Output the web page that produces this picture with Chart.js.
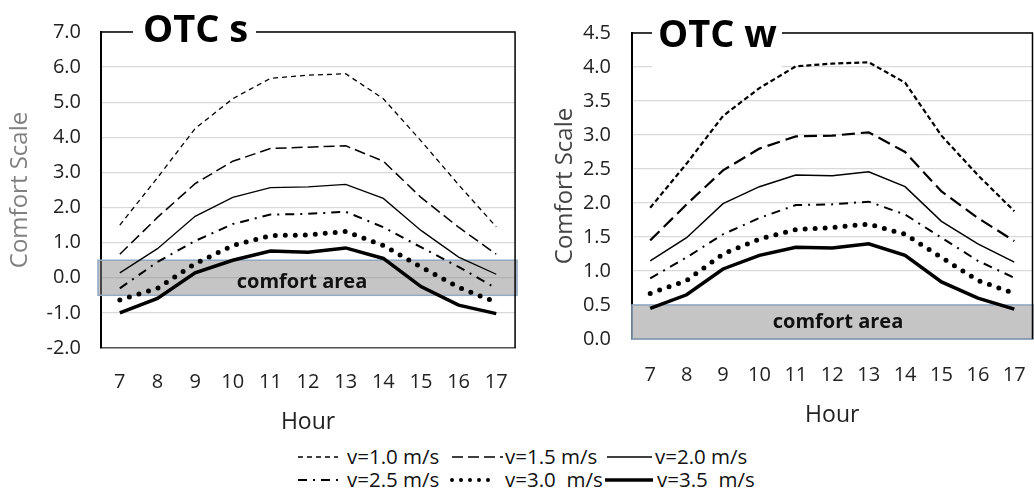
<!DOCTYPE html>
<html><head><meta charset="utf-8">
<script src="https://cdn.jsdelivr.net/npm/chart.js@4.4.0/dist/chart.umd.min.js"></script>
<style>
html,body{margin:0;padding:0;background:#fff;overflow:hidden;width:1034px;height:502px;}
#wrap{position:relative;width:1034px;height:502px;overflow:hidden;font-family:"Open Sans",sans-serif;background:#fff;}
#c1{position:absolute;left:0;top:0;}
#c2{position:absolute;left:530px;top:0;}
.lg{position:absolute;font-size:20.5px;color:#111;line-height:24px;white-space:pre;}
svg.s{position:absolute;overflow:visible;}
</style></head><body>
<div id="wrap">
<canvas id="c1" width="530" height="440"></canvas>
<canvas id="c2" width="520" height="440"></canvas>
<div id="legend"></div>
</div>
<script>
// ---- data ----
const hours = ['7','8','9','10','11','12','13','14','15','16','17'];
const seriesNames = ['v=1.0 m/s','v=1.5 m/s','v=2.0 m/s','v=2.5 m/s','v=3.0  m/s','v=3.5  m/s'];
const panelTitles = ['OTC s','OTC w'];
const yTitle = 'Comfort Scale';
const xTitle = 'Hour';
const bandLabel = 'comfort area';

const otcS_v10 = [1.50, 2.85, 4.25, 5.10, 5.68, 5.77, 5.81, 5.10, 3.90, 2.65, 1.45];
const otcS_v15 = [0.67, 1.72, 2.68, 3.32, 3.68, 3.72, 3.76, 3.32, 2.29, 1.44, 0.67];
const otcS_v20 = [0.14, 0.83, 1.75, 2.29, 2.57, 2.59, 2.66, 2.26, 1.35, 0.59, 0.10];
const otcS_v25 = [-0.30, 0.45, 1.05, 1.53, 1.80, 1.82, 1.88, 1.44, 0.87, 0.31, -0.30];
const otcS_v30 = [-0.63, -0.30, 0.40, 0.92, 1.20, 1.22, 1.32, 0.92, 0.31, -0.27, -0.70];
const otcS_v35 = [-1.00, -0.59, 0.14, 0.50, 0.76, 0.73, 0.85, 0.55, -0.25, -0.78, -1.02];

const otcW_v10 = [1.93, 2.58, 3.28, 3.69, 4.01, 4.05, 4.07, 3.77, 2.99, 2.41, 1.88];
const otcW_v15 = [1.45, 1.98, 2.48, 2.80, 2.98, 2.99, 3.04, 2.75, 2.17, 1.78, 1.44];
const otcW_v20 = [1.15, 1.49, 1.99, 2.24, 2.41, 2.40, 2.46, 2.24, 1.73, 1.40, 1.13];
const otcW_v25 = [0.89, 1.20, 1.54, 1.78, 1.97, 1.98, 2.02, 1.83, 1.49, 1.15, 0.90];
const otcW_v30 = [0.67, 0.86, 1.25, 1.47, 1.61, 1.64, 1.69, 1.54, 1.20, 0.86, 0.67];
const otcW_v35 = [0.45, 0.65, 1.03, 1.23, 1.35, 1.34, 1.40, 1.23, 0.84, 0.60, 0.44];

const yRangeS = [-2, 7, 1];
const yRangeW = [0, 4.5, 0.5];
const comfortS = [-0.5, 0.5];
const comfortW = [0, 0.5];

// ---- styles ----
const stylesS = [
  {borderWidth:1.3, borderDash:[5,4]},
  {borderWidth:1.5, borderDash:[11,5]},
  {borderWidth:1.3, borderDash:[]},
  {borderWidth:2, borderDash:[9,6,2,6]},
  {borderWidth:5, borderDash:[0,10], borderCapStyle:'round'},
  {borderWidth:3.5, borderDash:[]}
];
const stylesW = [
  {borderWidth:2.2, borderDash:[5,3]},
  {borderWidth:2.2, borderDash:[13,6]},
  {borderWidth:1.5, borderDash:[]},
  {borderWidth:2, borderDash:[9,6,2,6]},
  {borderWidth:5, borderDash:[0,10], borderCapStyle:'round'},
  {borderWidth:3.5, borderDash:[]}
];

const panelPlugin = {
  id: 'panel',
  beforeDatasetsDraw(chart, args, o) {
    const {ctx, chartArea: a, scales: {y}} = chart;
    const yt = y.getPixelForValue(o.band[1]);
    const yb = y.getPixelForValue(o.band[0]);
    ctx.save();
    ctx.fillStyle = 'rgba(140,140,140,0.5)';
    ctx.fillRect(a.left - o.bandExt, yt, a.right - a.left + o.bandExt + 2, yb - yt);
    ctx.strokeStyle = '#93a9c4';
    ctx.lineWidth = 1.5;
    ctx.strokeRect(a.left - o.bandExt, yt, a.right - a.left + o.bandExt + 2, yb - yt);
    ctx.fillStyle = '#111';
    ctx.font = 'bold 20px "Open Sans"';
    ctx.textAlign = 'center';
    ctx.textBaseline = 'middle';
    ctx.fillText(bandLabel, o.bandTextX, (yt + yb) / 2 + o.bandTextDy);
    // frame: top and right
    ctx.strokeStyle = '#000';
    ctx.lineWidth = 1.5;
    ctx.beginPath();
    ctx.moveTo(a.left, a.top); ctx.lineTo(a.right, a.top); ctx.lineTo(a.right, a.bottom);
    ctx.stroke();
    ctx.restore();
  },
  afterDraw(chart, args, o) {
    const {ctx} = chart;
    ctx.save();
    ctx.fillStyle = '#fff';
    ctx.fillRect(o.box[0], o.box[1], o.box[2], o.box[3]);
    ctx.fillStyle = '#000';
    ctx.font = 'bold 38px "Open Sans"';
    ctx.textAlign = 'left';
    ctx.textBaseline = 'alphabetic';
    ctx.fillText(o.title, o.titleX, o.titleY);
    ctx.restore();
  }
};

function makeDatasets(arrs, styles) {
  return arrs.map((d, i) => Object.assign({
    label: seriesNames[i], data: d, borderColor: '#000', backgroundColor: '#000',
    pointRadius: 0, tension: 0, fill: false
  }, styles[i]));
}

function makeChart(id, arrs, styles, cfg) {
  return new Chart(document.getElementById(id), {
    type: 'line',
    data: {labels: hours, datasets: makeDatasets(arrs, styles)},
    plugins: [panelPlugin],
    options: {
      responsive: false, animation: false,
      layout: {padding: {top: cfg.top, right: cfg.right, left: 0, bottom: 0}},
      plugins: {legend: {display: false}, tooltip: {enabled: false},
        panel: cfg.panel},
      scales: {
        x: {
          offset: true,
          grid: {display: false, drawTicks: false},
          border: {display: true, color: '#555', width: 1.5},
          ticks: {color: '#222', font: {family: 'Open Sans', size: 20}, padding: cfg.xTickPad, maxRotation: 0},
          title: {display: true, text: xTitle, color: '#222', font: {family: 'Open Sans', size: 23}, padding: {top: 0, bottom: cfg.xTitlePad}},
          afterFit: s => { s.height = cfg.xH; }
        },
        y: {
          min: cfg.yr[0], max: cfg.yr[1],
          grid: {color: '#d9d9d9', lineWidth: 1.3, drawTicks: false},
          border: {display: true, color: '#000', width: 2},
          ticks: {stepSize: cfg.yr[2], color: '#222', font: {family: 'Open Sans', size: 20}, padding: cfg.yTickPad,
            callback: v => Number(v).toFixed(1)},
          title: {display: true, text: yTitle, color: cfg.yTitleColor, font: {family: 'Open Sans', size: 24}, padding: {top: cfg.yTitlePad, bottom: 0}},
          afterFit: s => { s.width = cfg.yW; }
        }
      }
    }
  });
}

makeChart('c1', [otcS_v10, otcS_v15, otcS_v20, otcS_v25, otcS_v30, otcS_v35], stylesS, {
  top: 32, right: 7, xH: 92, yW: 101, yr: yRangeS,
  xTickPad: 22, xTitlePad: 4.2, yTickPad: 20, yTitlePad: 5.6, yTitleColor: '#808080',
  panel: {band: comfortS, bandExt: 3, bandTextX: 302, bandTextDy: 5, title: panelTitles[0], titleX: 143, titleY: 42, box: [133, 10, 123, 36]}
});
makeChart('c2', [otcW_v10, otcW_v15, otcW_v20, otcW_v25, otcW_v30, otcW_v35], stylesW, {
  top: 29, right: 6, xH: 101, yW: 102, yr: yRangeW,
  xTickPad: 24, xTitlePad: 11.2, yTickPad: 21, yTitlePad: 20.6, yTitleColor: '#444',
  panel: {band: comfortW, bandExt: 0, bandTextX: 308, bandTextDy: 0, title: panelTitles[1], titleX: 128, titleY: 47, box: [122, 8, 130, 60]}
});

// ---- legend (HTML) ----
const legendItems = [
  {row:0, sx:298, ex:338, text:seriesNames[0], tx:347, style:0},
  {row:0, sx:452, ex:503, text:seriesNames[1], tx:505, style:1},
  {row:0, sx:607, ex:652, text:seriesNames[2], tx:655, style:2},
  {row:1, sx:298, ex:338, text:seriesNames[3], tx:347, style:3},
  {row:1, sx:452, ex:497, text:seriesNames[4], tx:505, style:4},
  {row:1, sx:605, ex:653, text:seriesNames[5], tx:657, style:5}
];
const legendRowsY = [457, 480];
legendItems.forEach(it => {
  const st = stylesS[it.style];
  const y = legendRowsY[it.row];
  const svgNS = 'http://www.w3.org/2000/svg';
  const svg = document.createElementNS(svgNS, 'svg');
  svg.setAttribute('class', 's');
  svg.setAttribute('width', it.ex - it.sx + 4);
  svg.setAttribute('height', 12);
  svg.style.left = (it.sx - 2) + 'px';
  svg.style.top = (y - 6) + 'px';
  const ln = document.createElementNS(svgNS, 'line');
  ln.setAttribute('x1', 2); ln.setAttribute('x2', it.ex - it.sx + 2);
  ln.setAttribute('y1', 6); ln.setAttribute('y2', 6);
  ln.setAttribute('stroke', '#000');
  ln.setAttribute('stroke-width', it.style === 4 ? 4 : st.borderWidth);
  if (st.borderDash.length) ln.setAttribute('stroke-dasharray', it.style === 4 ? '0 9' : st.borderDash.join(' '));
  if (st.borderCapStyle === 'round') ln.setAttribute('stroke-linecap', 'round');
  svg.appendChild(ln);
  document.getElementById('wrap').appendChild(svg);
  const d = document.createElement('div');
  d.className = 'lg';
  d.textContent = it.text;
  d.style.left = it.tx + 'px';
  d.style.top = (y - 13) + 'px';
  document.getElementById('wrap').appendChild(d);
});
</script>
</body></html>
